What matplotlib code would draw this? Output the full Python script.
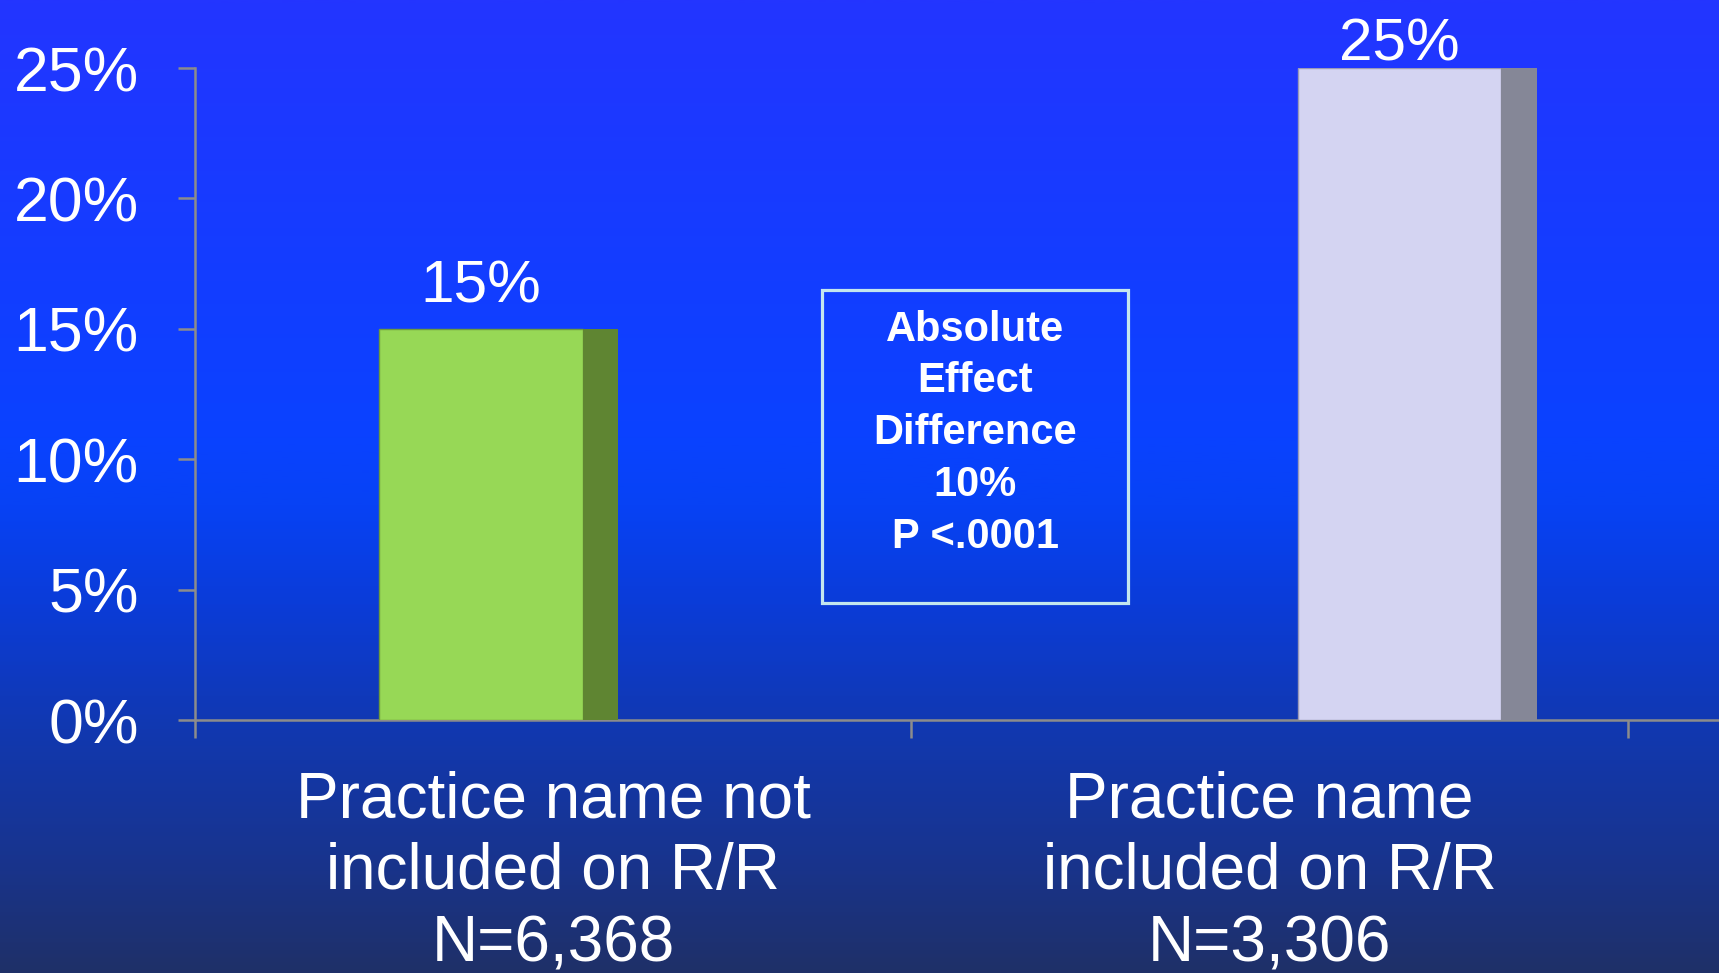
import numpy as np
import matplotlib
matplotlib.use("Agg")
import matplotlib.pyplot as plt
from matplotlib.colors import LinearSegmentedColormap
from matplotlib.patches import Rectangle

# Data
categories = [
    "Practice name not\nincluded on R/R\nN=6,368",
    "Practice name\nincluded on R/R\nN=3,306",
]
values = [15, 25]
value_labels = ["15%", "25%"]
y_ticks = [0, 5, 10, 15, 20, 25]
y_tick_labels = [f"{v}%" for v in y_ticks]
box_text = "Absolute\nEffect\nDifference\n10%\nP <.0001"

# Styles
font = "Liberation Sans"
axis_grey = "#8c8c8c"
front_colors = ["#97d856", "#d4d4f2"]
side_colors = ["#5f8532", "#858797"]
edge_colors = ["#6e9a3c", "#9a9ab8"]
bar_offsets = [-0.243, 0.039]   # left edge of front face, relative to category centre
bar_width = 0.284
side_depth = 0.05

bg_colors = [
    (0.00, "#2335ff"),
    (0.45, "#0a42ff"),
    (0.52, "#0742f5"),
    (0.62, "#0b3cd8"),
    (0.75, "#1138b0"),
    (0.88, "#18348f"),
    (1.00, "#1f3068"),
]
bg_cmap = LinearSegmentedColormap.from_list("bg", bg_colors)

fig = plt.figure(figsize=(17.19, 9.73), dpi=100)

# Background gradient
bg = fig.add_axes([0, 0, 1, 1], zorder=-10)
grad = np.linspace(0, 1, 512).reshape(-1, 1)
bg.imshow(grad, cmap=bg_cmap, aspect="auto", extent=[0, 1, 0, 1])
bg.set_axis_off()

ax = fig.add_axes([0.1134, 0.26, 0.8866, 0.6701])
ax.set_facecolor("none")
ax.set_xlim(-0.5, 1.627)
ax.set_ylim(0, 25)

# Bars: front face plus darker side face
for i, v in enumerate(values):
    left = i + bar_offsets[i]
    ax.bar(left, v, width=bar_width, align="edge", color=front_colors[i],
           edgecolor=edge_colors[i], linewidth=1.0, zorder=3)
    ax.bar(left + bar_width, v, width=side_depth, align="edge",
           color=side_colors[i], linewidth=0, zorder=3)
    ax.text(left + bar_width / 2, min(v + 1.0, 25.3), value_labels[i],
            ha="center", va="baseline", fontsize=43.5, color="white",
            family=font, clip_on=False, zorder=5)

# Annotation box
ax.add_patch(Rectangle((0.375, 4.5), 0.427, 12.0, facecolor="none",
                       edgecolor="#c4e6ee", linewidth=2.3, zorder=4))
ax.text(0.589, 11.0, box_text, ha="center", va="center", fontsize=30,
        fontweight="bold", color="white", family=font, linespacing=1.38,
        zorder=5)

# Axes styling
for side in ["top", "right"]:
    ax.spines[side].set_visible(False)
for side in ["left", "bottom"]:
    ax.spines[side].set_color(axis_grey)
    ax.spines[side].set_linewidth(1.8)

ax.set_yticks(y_ticks)
ax.set_yticklabels(y_tick_labels, family=font)
ax.tick_params(axis="y", length=12.5, width=1.8, color=axis_grey, pad=28,
               labelsize=45, labelcolor="white")

ax.set_xticks([0, 1])
ax.set_xticklabels(categories, family=font, linespacing=1.26)
ax.tick_params(axis="x", which="major", length=0, pad=36, labelsize=46,
               labelcolor="white")
ax.set_xticks([-0.5, 0.5, 1.5], minor=True)
ax.tick_params(axis="x", which="minor", length=13, width=1.8, color=axis_grey)

fig.savefig("out.png", dpi=100)
